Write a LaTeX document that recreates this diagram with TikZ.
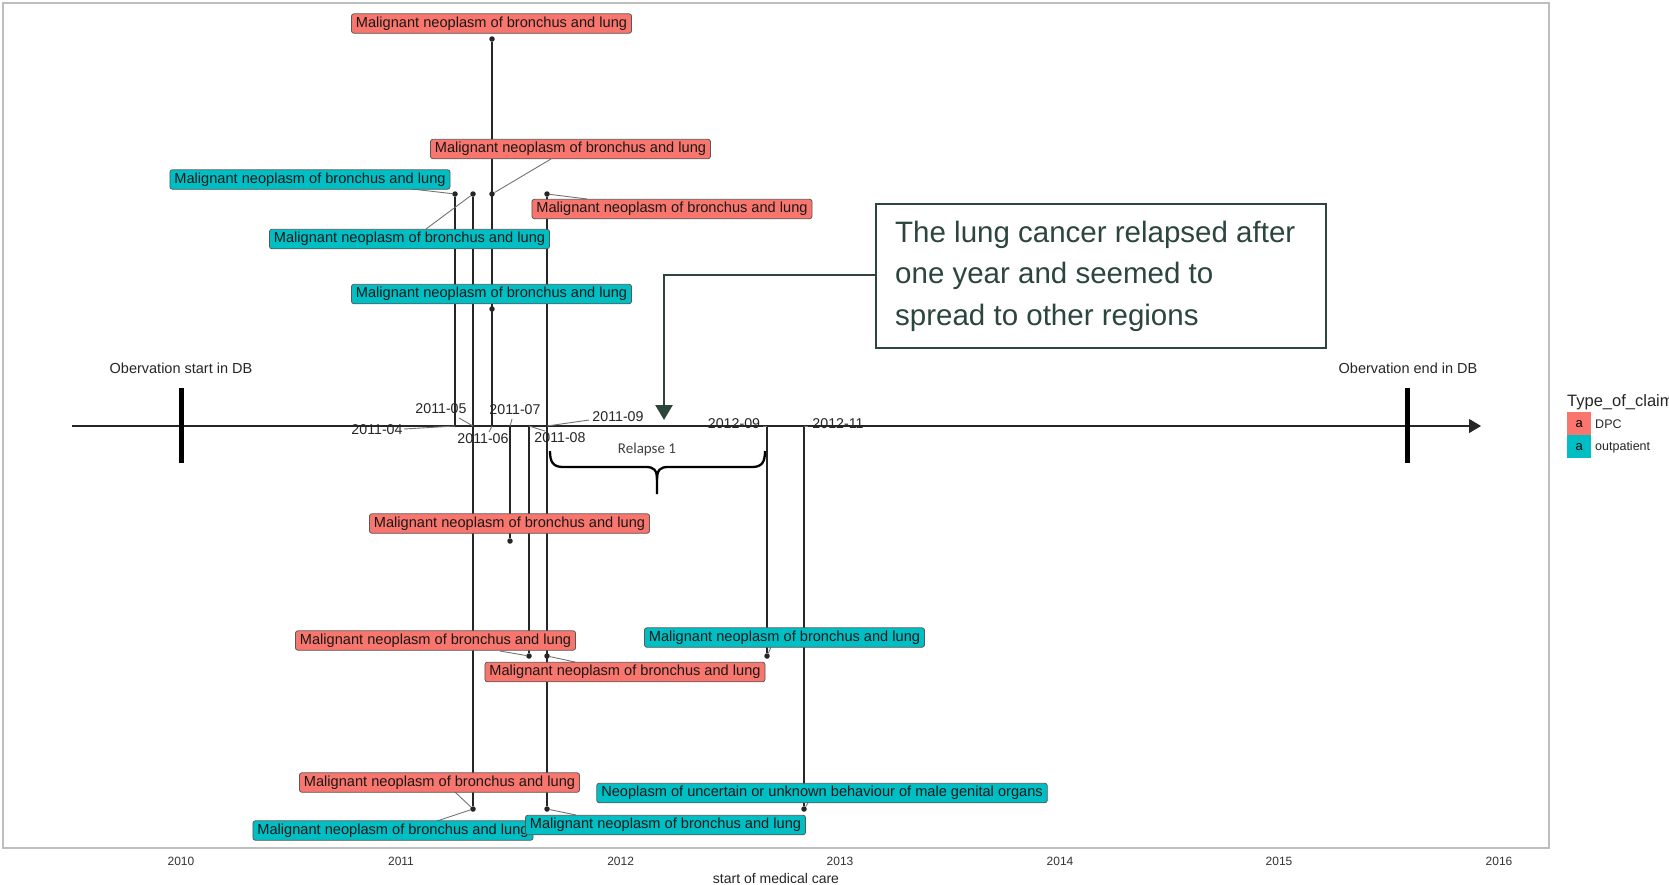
\documentclass[tikz,border=0pt]{standalone}
\usepackage{fontspec}
\setmainfont{Liberation Sans}
\newfontfamily\calib{Carlito}
\usetikzlibrary{arrows.meta}
\definecolor{dpc}{HTML}{F8766D}
\definecolor{outp}{HTML}{00BFC4}
\definecolor{annot}{RGB}{44,70,60}
\definecolor{panelgray}{RGB}{190,190,190}
\tikzset{
  lab/.style={draw=black!65, line width=0.8pt, rounded corners=2.5pt, inner xsep=4.5pt, inner ysep=0pt, minimum height=19.5pt, font=\fontsize{14.6}{16}\selectfont, text=black!90},
  labred/.style={lab, fill=dpc},
  labcyan/.style={lab, fill=outp},
  vline/.style={line width=1.3pt, black!85},
  leader/.style={line width=0.9pt, black!55},
  dot/.style={circle, fill=black!85, inner sep=0pt, minimum size=5.5pt},
  datelab/.style={font=\fontsize{14.2}{16}\selectfont, text=black!85, inner sep=0pt},
  yearlab/.style={font=\fontsize{12}{14}\selectfont, text=black!80, inner sep=0pt},
  obslab/.style={font=\fontsize{14.5}{16}\selectfont, text=black!85, inner sep=0pt},
}
\begin{document}
\begin{tikzpicture}[x=1pt,y=-1pt]
\clip (0,0) rectangle (1669,884);
\fill[white] (0,0) rectangle (1669,884);
% panel border
\draw[panelgray, line width=1.6pt] (3,3) rectangle (1549,848);

% year axis labels
\foreach \yr/\xx in {2010/181,2011/401,2012/620.6,2013/840,2014/1060,2015/1279,2016/1499}
  \node[yearlab] (yr\yr) at (\xx,861) {\yr};
\node[font=\fontsize{14}{16}\selectfont, text=black!85, inner sep=0pt] (xtitle) at (776,878) {start of medical care};

% timeline
\coordinate (tlstart) at (72,426);
\coordinate (tlend) at (1481,426);
\draw[line width=1.1pt, black!85, -{Triangle[length=12pt,width=14pt]}] (tlstart) -- (tlend);
\coordinate (obsS1) at (181,388); \coordinate (obsS2) at (181,463);
\coordinate (obsE1) at (1407,388); \coordinate (obsE2) at (1407,463);
\draw[line width=5pt] (obsS1) -- (obsS2);
\draw[line width=5pt] (obsE1) -- (obsE2);
\node[obslab] (obsS) at (181,368) {Obervation start in DB};
\node[obslab] (obsE) at (1408,368) {Obervation end in DB};

% timeline points
\coordinate (t04) at (455,426);
\coordinate (t05) at (473,426);
\coordinate (t06) at (492,426);
\coordinate (t07) at (510,426);
\coordinate (t08) at (529,426);
\coordinate (t09) at (547,426);
\coordinate (t1209) at (767,426);
\coordinate (t1211) at (804,426);

% dots
\node[dot] (d1) at (492,39) {};
\node[dot] (d04) at (455,194) {};
\node[dot] (d05a) at (473,194) {};
\node[dot] (d06b) at (492,194) {};
\node[dot] (d09a) at (547,194) {};
\node[dot] (d06c) at (492,309) {};
\node[dot] (d07) at (510,541) {};
\node[dot] (d08) at (529,656) {};
\node[dot] (d09b) at (547,656) {};
\node[dot] (d1209) at (767,656) {};
\node[dot] (d1211) at (804,809) {};
\node[dot] (d05b) at (473,809) {};
\node[dot] (d09c) at (547,809) {};

% vertical lines
\draw[vline] (d1) -- (t06);
\draw[vline] (d04) -- (t04);
\draw[vline] (d05a) -- (d05b);
\draw[vline] (d09a) -- (d09c);
\draw[vline] (t07) -- (d07);
\draw[vline] (t08) -- (d08);
\draw[vline] (t1209) -- (d1209);
\draw[vline] (t1211) -- (d1211);

% date labels
\node[datelab] (n04) at (377,429.5) {2011-04};
\node[datelab] (n05) at (441,408.5) {2011-05};
\node[datelab] (n06) at (483,439) {2011-06};
\node[datelab] (n07) at (515,409.5) {2011-07};
\node[datelab] (n08) at (560,438) {2011-08};
\node[datelab] (n09) at (618,416.5) {2011-09};
\node[datelab] (n1209) at (734,424) {2012-09};
\node[datelab] (n1211) at (838,424) {2012-11};
\coordinate (c04) at (404,429);
\coordinate (c05) at (459,418);
\coordinate (c06) at (489,432);
\coordinate (c07) at (512,419);
\coordinate (c08) at (545,431);
\coordinate (c09) at (589,420);
\coordinate (c1209) at (763,426);
\coordinate (c1211) at (808,426);
\draw[leader] (c04) -- (t04);
\draw[leader] (c05) -- (t05);
\draw[leader] (c06) -- (t06);
\draw[leader] (c07) -- (t07);
\draw[leader] (c08) -- (t08);
\draw[leader] (c09) -- (t09);
\draw[leader] (c1209) -- (t1209);
\draw[leader] (c1211) -- (t1211);

% leader ends on labels
\coordinate (e2) at (551,159);
\coordinate (ec1) at (412,189);
\coordinate (er3) at (587,199);
\coordinate (ec2) at (426,229);
\coordinate (e08) at (500,651);
\coordinate (e09) at (575,662);
\coordinate (e1209) at (771,647);
\coordinate (ebr) at (455,792);
\coordinate (ebc) at (437,821);
\coordinate (ebm) at (576,815);
\coordinate (eneo) at (808,803);
\draw[leader] (e2) -- (d06b);
\draw[leader] (ec1) -- (d04);
\draw[leader] (er3) -- (d09a);
\draw[leader] (ec2) -- (d05a);
\draw[leader] (e08) -- (d08);
\draw[leader] (e09) -- (d09b);
\draw[leader] (e1209) -- (d1209);
\draw[leader] (ebr) -- (d05b);
\draw[leader] (ebc) -- (d05b);
\draw[leader] (ebm) -- (d09c);
\draw[leader] (eneo) -- (d1211);

% labels
\node[labred] (L1) at (491.5,23.5) {Malignant neoplasm of bronchus and lung};
\node[labred] (L2) at (570.5,149) {Malignant neoplasm of bronchus and lung};
\node[labcyan] (C1) at (310,179.5) {Malignant neoplasm of bronchus and lung};
\node[labred] (R3) at (672,209) {Malignant neoplasm of bronchus and lung};
\node[labcyan] (C2) at (409.5,239) {Malignant neoplasm of bronchus and lung};
\node[labcyan] (C3) at (491.5,294) {Malignant neoplasm of bronchus and lung};
\node[labred] (R07) at (509.5,523.5) {Malignant neoplasm of bronchus and lung};
\node[labred] (R08) at (435.5,640.5) {Malignant neoplasm of bronchus and lung};
\node[labred] (R09) at (625,672) {Malignant neoplasm of bronchus and lung};
\node[labcyan] (C1209) at (784.5,637.5) {Malignant neoplasm of bronchus and lung};
\node[labred] (RB) at (439.5,782.5) {Malignant neoplasm of bronchus and lung};
\node[labcyan] (CNeo) at (822,793) {Neoplasm of uncertain or unknown behaviour of male genital organs};
\node[labcyan] (CBL) at (393,830.5) {Malignant neoplasm of bronchus and lung};
\node[labcyan] (CBM) at (665.5,825) {Malignant neoplasm of bronchus and lung};

% relapse brace
\draw[line width=2.3pt, black] (550,451) .. controls (550,462) and (553,467) .. (563,467) -- (646,467) .. controls (654,467) and (657,470) .. (657,480) -- (657,494);
\draw[line width=2.3pt, black] (765,451) .. controls (765,462) and (762,467) .. (752,467) -- (668,467) .. controls (660,467) and (657,470) .. (657,480);
\node[font=\calib\fontsize{15}{17}\selectfont, text=black!75, inner sep=0pt] (relapse) at (647,449) {Relapse 1};

% annotation
\node[draw=annot, line width=1.5pt, minimum width=450pt, minimum height=144pt, anchor=north west, inner sep=0pt] (ann) at (875,203) {};
\node[anchor=north west, align=left, text=annot, font=\fontsize{29.5}{41.5}\selectfont, inner sep=0pt] (anntext) at (895,220.5) {The lung cancer relapsed after\\one year and seemed to\\spread to other regions};
\coordinate (anncorner) at (664,275);
\coordinate (anntip) at (664,420);
\draw[annot, line width=2.5pt, -{Triangle[length=15pt,width=17pt]}] (ann.west |- anncorner) -- (anncorner) -- (anntip);

% legend
\node[anchor=west, font=\fontsize{16.5}{18}\selectfont, text=black!85, inner sep=0pt] (legtitle) at (1567,402) {Type\_of\_claim};
\node[fill=dpc, minimum width=24pt, minimum height=23pt, inner sep=0pt, anchor=north west, font=\fontsize{13}{15}\selectfont] (sw1) at (1567,412) {a};
\node[fill=outp, minimum width=24pt, minimum height=23pt, inner sep=0pt, anchor=north west, font=\fontsize{13}{15}\selectfont] (sw2) at (1567,435) {a};
\node[anchor=west, font=\fontsize{12.5}{14}\selectfont, text=black!85, inner sep=0pt] (leg1) at (1595,424) {DPC};
\node[anchor=west, font=\fontsize{12.5}{14}\selectfont, text=black!85, inner sep=0pt] (leg2) at (1595,447) {outpatient};
\end{tikzpicture}
\end{document}
